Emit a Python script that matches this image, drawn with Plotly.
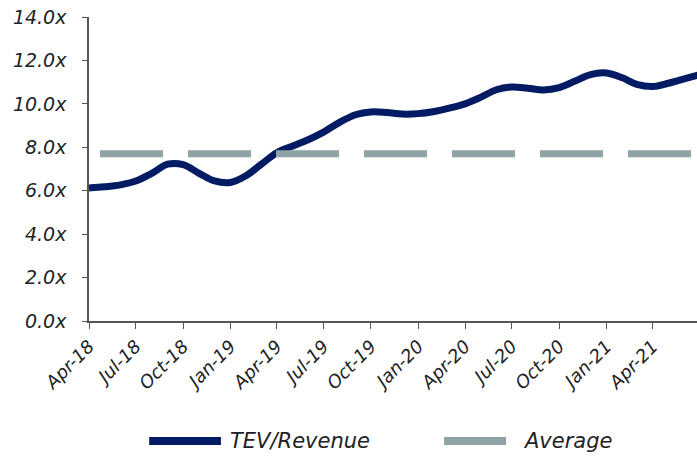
import plotly.graph_objects as go
import pandas as pd

# Monthly TEV/Revenue multiple, Apr-18 .. Jul-21
start_month = "2018-04-01"
tev_revenue = [6.13, 6.18, 6.27, 6.45, 6.80, 7.22, 7.20, 6.80, 6.45, 6.38,
               6.70, 7.20, 7.75, 8.05, 8.35, 8.70, 9.15, 9.50, 9.63, 9.60,
               9.53, 9.55, 9.65, 9.80, 10.00, 10.30, 10.65, 10.78, 10.72, 10.64,
               10.75, 11.05, 11.35, 11.42, 11.20, 10.90, 10.80, 10.95, 11.15, 11.35]
average_value = 7.70
series_names = ["TEV/Revenue", "Average"]
y_ticks = [0, 2, 4, 6, 8, 10, 12, 14]
y_tick_labels = [f"{v:.1f}x" for v in y_ticks]

dates = pd.date_range(start_month, periods=len(tev_revenue), freq="MS")

NAVY = "#021B63"
GREY = "#8EA3A6"
FONT = "DejaVu Sans"
colors = [NAVY, GREY]

fig = go.Figure()
fig.add_trace(go.Scatter(
    x=dates, y=tev_revenue, name=series_names[0], mode="lines",
    line=dict(color=NAVY, width=7, shape="spline", smoothing=1.0),
    showlegend=False,
))
fig.add_trace(go.Scatter(
    x=dates, y=[average_value] * len(dates), name=series_names[1], mode="lines",
    line=dict(color=GREY, width=7, dash="0px,11px,63px,14px"),
    showlegend=False,
))

# Custom legend (paper coordinates below the plot)
legend_y = -0.395
legend_items = [(0.099, 0.217, 0.229), (0.584, 0.686, 0.711)]
for (x0, x1, xt), name, col in zip(legend_items, series_names, colors):
    fig.add_shape(type="line", xref="paper", yref="paper", x0=x0, x1=x1,
                  y0=legend_y, y1=legend_y, line=dict(color=col, width=8))
    fig.add_annotation(xref="paper", yref="paper", x=xt, y=legend_y, text=name,
                       showarrow=False, xanchor="left", yanchor="middle",
                       font=dict(size=21, style="italic", color="#222222"))

fig.update_layout(
    width=697, height=456,
    margin=dict(l=89, r=0, t=17, b=135, autoexpand=False),
    plot_bgcolor="white", paper_bgcolor="white",
    font=dict(family=FONT, size=18, color="#222222", style="italic"),
    showlegend=False,
)
fig.update_xaxes(
    range=["2018-04-01", "2021-06-26"],
    tickformat="%b-%y", dtick="M3", tick0="2018-04-01",
    tickangle=-45, ticks="outside", ticklen=6, tickcolor="#555555",
    showline=True, linecolor="#555555", linewidth=1.5,
    showgrid=False, zeroline=False, automargin=False,
    tickfont=dict(size=18, style="italic"),
)
fig.update_yaxes(
    range=[0, 14], tickvals=y_ticks, ticktext=y_tick_labels,
    ticks="outside", ticklen=5, tickcolor="#555555",
    showline=True, linecolor="#555555", linewidth=1.5,
    showgrid=False, zeroline=False, ticklabelstandoff=12, automargin=False,
    tickfont=dict(size=19, style="italic"),
)

# remove the browser's default 8px body margin so the figure fills the window
fig.write_html("out.html",
               config={"displayModeBar": False},
               post_script="document.body.style.margin='0';document.body.style.overflow='hidden';")
